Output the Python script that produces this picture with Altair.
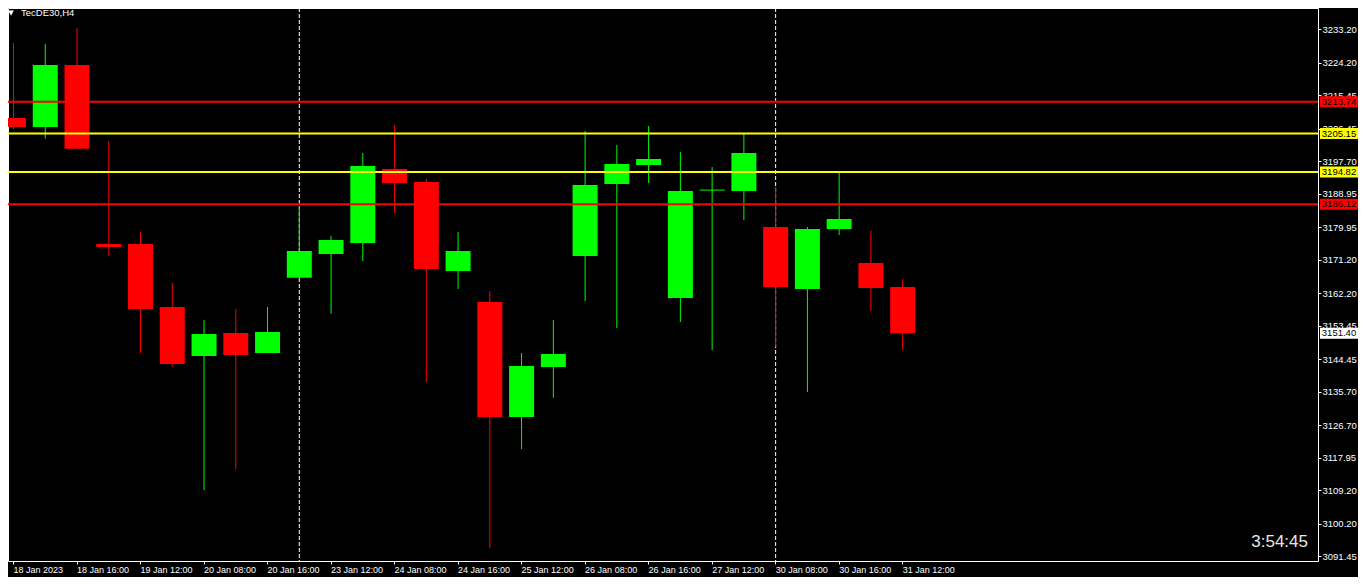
import altair as alt
import pandas as pd

# ---- data (TecDE30, H4) ----
opens  = [3209.35, 3206.93, 3223.62, 3175.44, 3175.44, 3158.48, 3145.29, 3151.48, 3146.09, 3166.36,
          3172.74, 3175.70, 3195.62, 3192.12, 3168.17, 3159.82, 3128.87, 3142.33, 3172.21, 3191.59,
          3196.70, 3160.90, 3189.81, 3189.70, 3180.01, 3163.32, 3179.47, 3170.32, 3163.86]
highs  = [3229.54, 3229.27, 3233.58, 3203.16, 3178.67, 3164.94, 3154.98, 3157.94, 3158.48, 3185.66,
          3177.59, 3199.93, 3207.47, 3192.93, 3178.67, 3162.78, 3146.09, 3154.98, 3205.85, 3202.08,
          3207.20, 3200.20, 3196.16, 3205.05, 3190.78, 3180.01, 3195.09, 3178.94, 3166.01]
lows   = [3206.39, 3203.78, 3201.09, 3172.21, 3146.09, 3142.33, 3109.22, 3114.87, 3146.09, 3166.00,
          3156.67, 3170.86, 3183.78, 3138.29, 3163.32, 3093.69, 3120.25, 3134.06, 3160.09, 3152.82,
          3191.86, 3154.44, 3146.90, 3181.90, 3147.71, 3135.60, 3177.86, 3157.40, 3146.90]
closes = [3206.93, 3223.62, 3201.09, 3174.63, 3157.94, 3143.13, 3151.21, 3145.56, 3151.75, 3173.55,
          3176.51, 3196.43, 3191.86, 3168.71, 3173.55, 3128.87, 3142.60, 3145.83, 3191.32, 3196.97,
          3198.32, 3189.70, 3190.08, 3199.93, 3163.86, 3179.47, 3182.17, 3163.59, 3151.40]

tick_idx = list(range(0, 29, 2))
tick_labels = ["18 Jan 2023", "18 Jan 16:00", "19 Jan 12:00", "20 Jan 08:00", "20 Jan 16:00",
               "23 Jan 12:00", "24 Jan 08:00", "24 Jan 16:00", "25 Jan 12:00", "26 Jan 08:00",
               "26 Jan 16:00", "27 Jan 12:00", "30 Jan 08:00", "30 Jan 16:00", "31 Jan 12:00"]
price_ticks = [3233.20, 3224.20, 3215.45, 3206.45, 3197.70, 3188.95, 3179.95, 3171.20, 3162.20,
               3153.45, 3144.45, 3135.70, 3126.70, 3117.95, 3109.20, 3100.20, 3091.45]
level_prices = [3213.74, 3205.15, 3194.82, 3186.12]
level_colors = ["#FF0000", "#FFFF00", "#FFFF00", "#FF0000"]
separators = [9, 24]
current_price = 3151.40
symbol_title = "TecDE30,H4"
timer_text = "3:54:45"

# ---- layout ----
W, H = 1310, 553
PX_PER_BAR = 32
FONT = "Liberation Sans"
x_scale = alt.Scale(domain=[0, W / PX_PER_BAR], nice=False, zero=False)
y_scale = alt.Scale(domain=[3090.11, 3238.96], nice=False, zero=False)

candles = pd.DataFrame({
    "i": list(range(len(opens))),
    "open": opens, "high": highs, "low": lows, "close": closes,
})
candles["dir"] = ["up" if c >= o else "down" for o, c in zip(opens, closes)]
levels = pd.DataFrame({"price": level_prices, "color": level_colors})
seps = pd.DataFrame({"i": separators})
cur = pd.DataFrame({"price": [current_price]})

label_map = "{" + ",".join(f"'{i}':'{t}'" for i, t in zip(tick_idx, tick_labels)) + "}"

color = alt.Color("dir:N", scale=alt.Scale(domain=["up", "down"], range=["#00FF00", "#FF0000"]),
                  legend=None)

x_axis = alt.Axis(values=tick_idx, labelExpr=f"{label_map}[datum.value]", orient="bottom",
                  labelAlign="left", labelBaseline="top", labelPadding=1, tickSize=3,
                  tickColor="white", labelColor="white", labelFont=FONT,
                  labelFontSize=9, domain=False, grid=False, title=None,
                  labelOverlap=False, labelBound=False, labelFlush=False)
y_axis = alt.Axis(values=price_ticks, format=".2f", orient="right", tickSize=3,
                  tickColor="white", labelColor="white", labelFont=FONT,
                  labelFontSize=9.5, labelPadding=1, domain=False, grid=False, title=None,
                  labelOverlap=False, labelBound=False, labelFlush=False)


def X(field):
    return alt.X(field, type="quantitative", scale=x_scale, axis=x_axis, title=None)


def Y(field):
    return alt.Y(field, type="quantitative", scale=y_scale, axis=y_axis, title=None)


sep_layer = alt.Chart(seps).mark_rule(color="white", strokeWidth=1, strokeDash=[4, 2],
                                      xOffset=0.5, clip=True).encode(
    x=X("i"),
    y=alt.value(0), y2=alt.value(H),
)

wicks = alt.Chart(candles).mark_rule(strokeWidth=1, xOffset=0.5, clip=True).encode(
    x=X("i"),
    y=Y("low"),
    y2="high:Q",
    color=color,
)

bodies = alt.Chart(candles).mark_bar(size=25, xOffset=0.5, clip=True).encode(
    x=X("i"),
    y=Y("open"),
    y2="close:Q",
    color=color,
)

level_lines = alt.Chart(levels).mark_rule(strokeWidth=2, clip=True).encode(
    y=Y("price"),
    x=alt.value(0), x2=alt.value(W),
    color=alt.Color("color:N", scale=None),
)

level_boxes = alt.Chart(levels).mark_rect(yOffset=-5.5, y2Offset=5.5).encode(
    y=Y("price"),
    y2="price:Q",
    x=alt.value(W + 2), x2=alt.value(W + 40),
    color=alt.Color("color:N", scale=None),
)
level_text = alt.Chart(levels).mark_text(font=FONT, fontSize=9.5, color="black",
                                         align="center", baseline="middle").encode(
    y=Y("price"),
    x=alt.value(W + 21),
    text=alt.Text("price:Q", format=".2f"),
)

cur_box = alt.Chart(cur).mark_rect(color="white", yOffset=-5.5, y2Offset=5.5).encode(
    y=Y("price"),
    y2="price:Q",
    x=alt.value(W + 2), x2=alt.value(W + 40),
)
cur_text = alt.Chart(cur).mark_text(font=FONT, fontSize=9.5, color="black",
                                    align="center", baseline="middle").encode(
    y=Y("price"),
    x=alt.value(W + 21),
    text=alt.Text("price:Q", format=".2f"),
)

title_df = pd.DataFrame({"t": [symbol_title]})
tri = alt.Chart(title_df).mark_text(text="▼", font="DejaVu Sans", fontSize=7, color="white",
                                    align="center", baseline="middle").encode(
    x=alt.value(3), y=alt.value(5))
title = alt.Chart(title_df).mark_text(font=FONT, fontSize=9.5, color="white",
                                      align="left", baseline="middle").encode(
    x=alt.value(13), y=alt.value(5), text="t:N")

timer_df = pd.DataFrame({"t": [timer_text]})
timer = alt.Chart(timer_df).mark_text(font=FONT, fontSize=17, color="#E8E8E8",
                                      align="right", baseline="middle").encode(
    x=alt.value(W - 10), y=alt.value(H - 19), text="t:N")

chart = alt.layer(
    sep_layer, wicks, bodies, level_lines, level_boxes, level_text, cur_box, cur_text,
    tri, title, timer,
).properties(
    width=W, height=H,
    background="black",
    padding={"left": 0, "top": 0, "right": 40, "bottom": 16},
    autosize=alt.AutoSizeParams(type="none"),
).configure_view(
    stroke="white", strokeWidth=1, fill="black",
)

chart.save("out.html", embed_options={"renderer": "svg", "actions": False})
